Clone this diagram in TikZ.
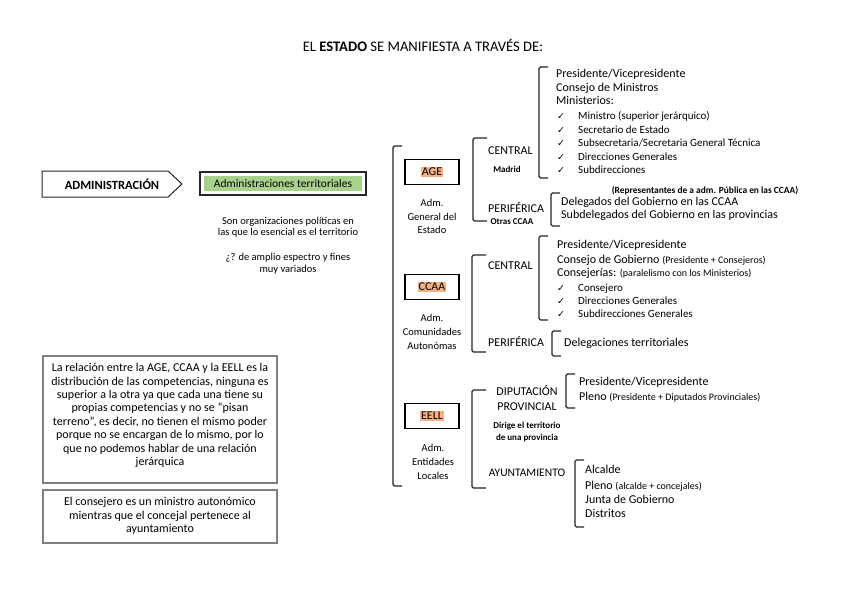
\documentclass[tikz,border=0pt]{standalone}
\usepackage{fontspec}
\setmainfont{Carlito}
\newfontfamily\dejavu{DejaVu Sans}
\definecolor{hlgreen}{HTML}{A9D18E}
\definecolor{hlorange}{HTML}{F4B183}
\definecolor{boxgray}{HTML}{7F7F7F}
\newcommand\myfs[1]{\fontsize{#1}{#1}\selectfont}
\newcommand\brk[4]{\draw[brkline] (#1+#4,#2) -- (#1,#2) -- (#1,#3) -- (#1+#4,#3);}
\tikzset{
  brkline/.style={line width=1.1pt, black!85, rounded corners=1.5pt},
  lt/.style={inner sep=0pt, anchor=west, font=\myfs{12}, text height=8pt, text depth=2pt},
  ltc/.style={lt, anchor=center},
  cl/.style={inner sep=0pt, anchor=west, font=\myfs{11}, text height=7.5pt, text depth=2pt},
  ck/.style={inner sep=0pt, anchor=center, font=\dejavu\myfs{9.5}},
  bsm/.style={inner sep=0pt, anchor=center, font=\bfseries\myfs{9}, text height=6.5pt, text depth=1.8pt},
  adm/.style={inner sep=0pt, anchor=center, font=\myfs{10.5}, text height=7pt, text depth=2pt},
  sm/.style={inner sep=0pt, anchor=center, font=\myfs{10.5}, text height=7pt, text depth=2pt},
  entbox/.style={draw, line width=1.3pt, minimum width=54pt, minimum height=25pt, inner sep=0pt},
  hl/.style={fill=hlorange, inner xsep=1pt, inner ysep=1.5pt, font=\myfs{12}},
  lbox/.style={draw=boxgray, line width=1.2pt, inner sep=0pt},
  ltext/.style={inner sep=0pt, align=center, font=\fontsize{12}{13.4}\selectfont}
}
\begin{document}
\begin{tikzpicture}[x=1pt,y=-1pt]
\useasboundingbox (0,0) rectangle (848,599);
\fill[white] (0,0) rectangle (848,599);

% title
\node[inner sep=0pt, font=\myfs{14.6}] (title) at (423,45) {EL \textbf{ESTADO} SE MANIFIESTA A TRAVÉS DE:};

% ADMINISTRACION arrow
\draw[line width=1pt, black!85] (42,171) -- (168,171) -- (182,184) -- (168,197) -- (42,197) -- cycle;
\node[inner sep=0pt, font=\bfseries\myfs{12.5}] (admin) at (112,184) {ADMINISTRACIÓN};

% Administraciones territoriales
\draw[line width=1.5pt, black!85] (200,172) rectangle (366,195);
\fill[hlgreen] (204,176) rectangle (362,191);
\node[inner sep=0pt, font=\myfs{11.5}] (admter) at (283,183.5) {Administraciones territoriales};
\node[sm] (son1) at (288,222) {Son organizaciones políticas en};
\node[sm] (son2) at (288,232.5) {las que lo esencial es el territorio};
\node[sm] (amp1) at (288,258) {¿? de amplio espectro y fines};
\node[sm] (amp2) at (288,270) {muy variados};

% left boxes
\node[lbox, minimum width=234pt, minimum height=127pt] (relbox) at (160,419.5) {};
\node[ltext] (reltext) at (160,415.5) {La relación entre la AGE, CCAA y la EELL es la\\distribución de las competencias, ninguna es\\superior a la otra ya que cada una tiene su\\propias competencias y no se “pisan\\terreno”, es decir, no tienen el mismo poder\\porque no se encargan de lo mismo, por lo\\que no podemos hablar de una relación\\jerárquica};
\node[lbox, minimum width=234pt, minimum height=53pt] (conbox) at (160,516.5) {};
\node[ltext] (context) at (160,516) {El consejero es un ministro autonómico\\mientras que el concejal pertenece al\\ayuntamiento};

% big bracket
\brk{393}{146}{486}{9}

% ---------- AGE ----------
\node[entbox] (age) at (432,172) {};
\node[hl] (agel) at (age) {AGE};
\node[adm] (age1) at (432,204) {Adm.};
\node[adm] (age2) at (432,218) {General del};
\node[adm] (age3) at (432,231) {Estado};
\brk{473}{138}{221}{14}
\node[lt] (agecen) at (488,151) {CENTRAL};
\node[bsm] (madrid) at (507,170) {Madrid};
\node[lt] (ageper) at (488,209) {PERIFÉRICA};
\node[bsm] (otras) at (512,222) {Otras CCAA};

\brk{539}{67}{178}{9}
\node[lt] (a1) at (556,75) {Presidente/Vicepresidente};
\node[lt] (a2) at (556,89) {Consejo de Ministros};
\node[lt] (a3) at (556,102) {Ministerios:};
\node[ck] (ac1) at (561,117) {✓}; \node[cl] (a4) at (578,117) {Ministro (superior jerárquico)};
\node[ck] (ac2) at (561,131) {✓}; \node[cl] (a5) at (578,131) {Secretario de Estado};
\node[ck] (ac3) at (561,144) {✓}; \node[cl] (a6) at (578,144) {Subsecretaria/Secretaria General Técnica};
\node[ck] (ac4) at (561,158) {✓}; \node[cl] (a7) at (578,158) {Direcciones Generales};
\node[ck] (ac5) at (561,171) {✓}; \node[cl] (a8) at (578,171) {Subdirecciones};

\node[bsm, font=\bfseries\myfs{9.4}] (repr) at (705,191) {(Representantes de a adm. Pública en las CCAA)};
\brk{551}{193}{226}{9}
\node[lt] (p1) at (561,202) {Delegados del Gobierno en las CCAA};
\node[lt] (p2) at (561,215) {Subdelegados del Gobierno en las provincias};

% ---------- CCAA ----------
\node[entbox] (ccaa) at (432,287) {};
\node[hl] (ccaal) at (ccaa) {CCAA};
\node[adm] (cc1) at (432,319) {Adm.};
\node[adm] (cc2) at (432,333) {Comunidades};
\node[adm] (cc3) at (432,347) {Autonómas};
\brk{472}{255}{352}{14}
\node[lt] (cccen) at (488,266) {CENTRAL};
\node[lt] (ccper) at (488,343) {PERIFÉRICA};

\brk{539}{236}{320}{9}
\node[lt] (c1) at (557,245) {Presidente/Vicepresidente};
\node[lt] (c2) at (557,260) {Consejo de Gobierno {\myfs{10}(Presidente + Consejeros)}};
\node[lt] (c3) at (557,273) {Consejerías: {\myfs{10}(paralelismo con los Ministerios)}};
\node[ck] (cck1) at (561,289) {✓}; \node[cl] (c4) at (578,289) {Consejero};
\node[ck] (cck2) at (561,302) {✓}; \node[cl] (c5) at (578,302) {Direcciones Generales};
\node[ck] (cck3) at (561,315) {✓}; \node[cl] (c6) at (578,315) {Subdirecciones Generales};

\brk{552}{331}{356}{9}
\node[lt] (cp1) at (564,343) {Delegaciones territoriales};

% ---------- EELL ----------
\node[entbox] (eell) at (432,416) {};
\node[hl] (eelll) at (eell) {EELL};
\node[adm] (ee1) at (433,449) {Adm.};
\node[adm] (ee2) at (433,463) {Entidades};
\node[adm] (ee3) at (433,477) {Locales};
\brk{472}{390}{488}{14}
\node[ltc] (dip1) at (527,392) {DIPUTACIÓN};
\node[ltc] (dip2) at (527,407) {PROVINCIAL};
\node[bsm] (dir1) at (527,426) {Dirige el territorio};
\node[bsm] (dir2) at (527,438) {de una provincia};
\node[ltc, font=\myfs{11.5}] (ayto) at (527,473) {AYUNTAMIENTO};

\brk{566}{374}{408}{9}
\node[lt] (d1) at (579,382) {Presidente/Vicepresidente};
\node[lt] (d2) at (579,397) {Pleno {\myfs{10}(Presidente + Diputados Provinciales)}};

\brk{575}{460}{527}{9}
\node[lt] (y1) at (585,470) {Alcalde};
\node[lt] (y2) at (585,486) {Pleno {\myfs{10}(alcalde + concejales)}};
\node[lt] (y3) at (585,500) {Junta de Gobierno};
\node[lt] (y4) at (585,514) {Distritos};
\end{tikzpicture}
\end{document}
